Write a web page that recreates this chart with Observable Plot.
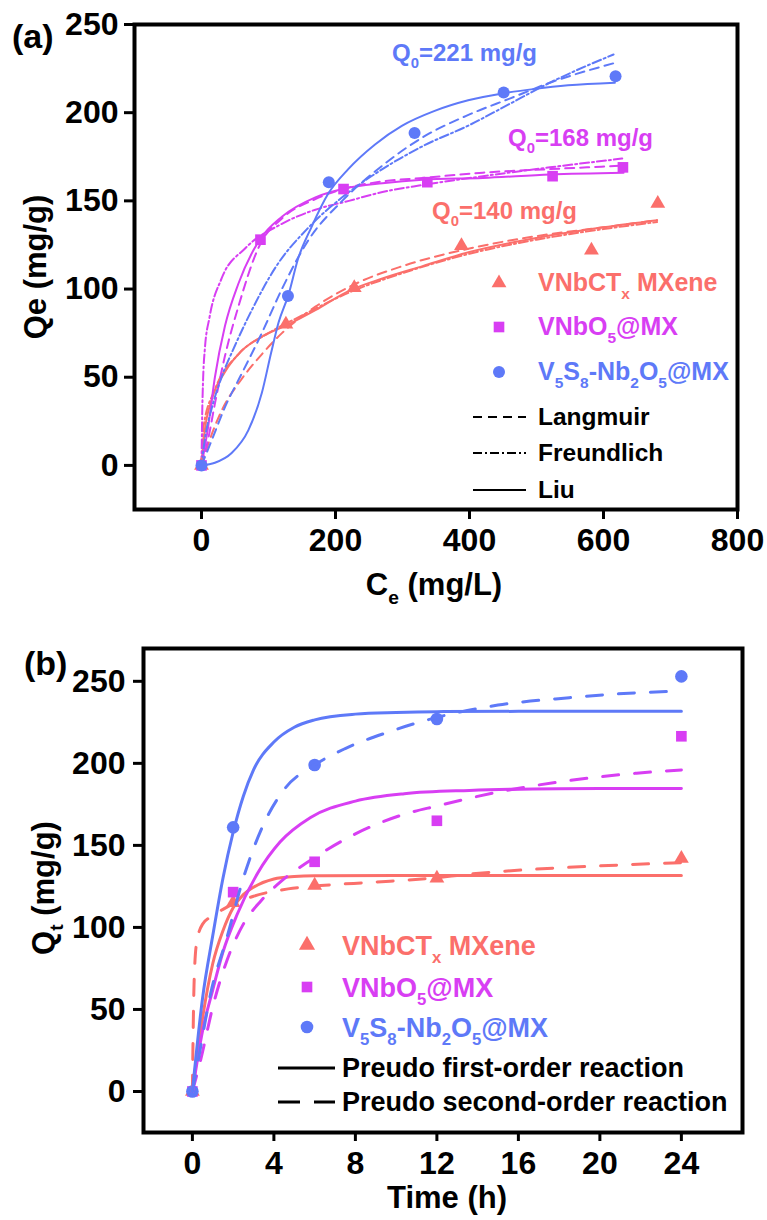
<!DOCTYPE html>
<html><head><meta charset="utf-8">
<script src="https://cdn.jsdelivr.net/npm/d3@7"></script>
<script src="https://cdn.jsdelivr.net/npm/@observablehq/plot@0.6"></script>
<style>
html,body{margin:0;padding:0;background:#fff;overflow:hidden;}
#wrap{position:relative;width:767px;height:1220px;overflow:hidden;background:#fff;}
#wrap svg{position:absolute;left:0;max-width:none;}
</style></head><body><div id="wrap"></div>
<script>
// ---------------- Panel (a): isotherms ----------------
const ceVNbCTx = [0, 126, 228, 388, 582, 681];
const qeVNbCTx = [0, 80, 100.7, 124.5, 122, 148.5];
const ceVNbO5  = [0, 88, 212, 337, 524, 629];
const qeVNbO5  = [0, 128, 156.7, 160.6, 164, 169];
const ceV5S8   = [0, 129, 190, 318, 451, 618];
const qeV5S8   = [0, 96, 160.5, 188.5, 211.5, 220.6];

// fitted curves, [Ce, Qe]
const liuVNbCTx  = [[0,0],[5,20],[15,37],[35,53],[60,65],[90,73],[130,80],[170,88],[220,99],[270,106],[330,113],[400,121],[500,129],[600,135],[680,139]];
const langVNbCTx = [[0,0],[10,12],[30,31],[60,49],[90,63],[120,75],[170,90],[230,103],[300,113],[400,123],[500,130],[600,135],[680,139]];
const freuVNbCTx = [[0,0],[3,22],[20,43],[55,63],[100,75],[150,85],[220,98],[300,109],[400,120],[500,128],[600,134],[680,138]];
const liuVNbO5   = [[0,0],[10,22],[20,50],[35,79],[55,103],[87,128],[120,141],[170,152],[214,157],[270,160],[330,162],[420,163],[520,165],[630,166]];
const langVNbO5  = [[0,0],[10,15],[20,35],[35,62],[55,90],[87,125],[120,140],[170,151],[214,157],[270,161],[330,163],[420,166],[520,168],[630,170]];
const freuVNbO5  = [[0,0],[1,28],[2.5,50],[5,66],[12,84],[30,106],[65,123],[120,137],[170,145],[220,150],[270,155],[330,159],[420,164],[520,169],[628,174]];
const liuV5S8    = [[0,0],[20,1.5],[45,7],[70,20],[90,41],[104,64],[115,81],[130,97],[144,117],[164,135],[189,154],[219,168],[259,182],[299,192.5],[348,201],[398,207],[451,211],[498,213.5],[547,215.5],[617,217]];
const langV5S8   = [[0,0],[15,14],[35,33],[60,52],[90,75],[120,100],[160,128],[210,150],[270,170],[330,186],[400,199],[460,208],[520,217],[615,228]];
const freuV5S8   = [[0,0],[5,15],[15,32],[30,50],[50,68],[75,88],[110,112],[160,135],[210,152],[270,168],[330,181],[400,193],[460,205],[520,217],[615,233]];

const xTicksA = [0, 200, 400, 600, 800];
const yTicksA = [0, 50, 100, 150, 200, 250];

// ---------------- Panel (b): kinetics ----------------
const tPts      = [0, 2, 6, 12, 24];
const qtVNbCTx  = [0, 115, 125.6, 130, 142];
const qtVNbO5   = [0, 121.5, 140, 165, 216.5];
const qtV5S8    = [0, 161, 199, 227, 253];

const pfoVNbCTx = [[0,0],[0.5,45],[1,78],[1.5,98],[2,112],[2.5,120],[3,124.5],[4,129.5],[5,131],[6,131.5],[10,131.7],[24,131.7]];
const psoVNbCTx = [[0,0],[0.03,30],[0.08,65],[0.2,90],[0.5,102],[1,107],[1.5,111],[3,119],[4.7,123.5],[6.3,125.5],[8.8,127.5],[11.75,130],[13.6,132.5],[16.8,135.5],[20,137.5],[24,139.5]];
const pfoVNbO5  = [[0,0],[0.5,37],[1,62],[1.5,85],[2.2,108],[3.2,133],[4.3,152],[5.8,167],[8,177],[10.4,181.5],[13.6,183.5],[18,184.5],[24,184.7]];
const psoVNbO5  = [[0,0],[0.4,19],[1.05,54],[1.7,80],[2.5,102],[3.35,116],[4.35,128],[5.8,141],[8,157],[10.4,169],[12,174],[15.2,183],[18.5,189.5],[21.8,194],[24,196]];
const pfoV5S8   = [[0,0],[0.5,57],[1,95],[1.5,130],[2,158],[2.5,180],[3,196],[4,213],[5,222],[6,226.5],[8,230],[10,231],[12,231.5],[16,231.7],[24,231.7]];
const psoV5S8   = [[0,0],[0.3,20],[0.9,60],[1.7,94],[2.5,130],[3.5,163],[4.5,184],[6,199],[7.5,209],[9.6,219],[12,228],[15,235.5],[18.5,240],[21.8,243],[24,244]];

const xTicksB = [0, 4, 8, 12, 16, 20, 24];
const yTicksB = [0, 50, 100, 150, 200, 250];

// ---------------- styling ----------------
const FONT = "'Liberation Sans', Arial, sans-serif";
const C_SAL = "#fb6f6b", C_MAG = "#d83ef3", C_BLU = "#5e79f8";
const DASH_A = "9,6", DOTDASH_A = "9,3,2,3", DASH_B = "16,16";

const pts = (xs, ys) => xs.map((x, i) => ({x, y: ys[i]}));
const crv = arr => arr.map(([x, y]) => ({x, y}));

function rich(sel, x, y, parts, size, fill, anchor = "start", rotate = false) {
  const t = sel.append("text")
    .attr("font-family", FONT).attr("font-weight", "bold")
    .attr("font-size", size).attr("fill", fill).attr("text-anchor", anchor);
  if (rotate) t.attr("transform", `translate(${x},${y}) rotate(-90)`).attr("x", 0).attr("y", 0);
  else t.attr("x", x).attr("y", y);
  let shift = 0;
  for (const p of parts) {
    const sub = typeof p !== "string";
    const target = sub ? size * 0.3 : 0;
    const s = t.append("tspan").text(sub ? p.s : p).attr("dy", target - shift);
    if (sub) s.attr("font-size", size * 0.62);
    shift = target;
  }
  return t;
}
function sym(sel, type, r, cx, cy, fill) {
  sel.append("path").attr("d", d3.symbol(type, Math.PI * r * r)())
    .attr("transform", `translate(${cx},${cy})`).attr("fill", fill);
}

const lineA = (d, c, dash) => Plot.line(crv(d), {x: "x", y: "y", stroke: c, strokeWidth: 2, strokeDasharray: dash, curve: "monotone-x"});
const lineB = (d, c, dash) => Plot.line(crv(d), {x: "x", y: "y", stroke: c, strokeWidth: 3, strokeDasharray: dash, strokeLinecap: "round", curve: "monotone-x"});

const plotA = Plot.plot({
  width: 767, height: 615,
  marginLeft: 134, marginRight: 30, marginTop: 24, marginBottom: 106,
  x: {domain: [-100, 800]}, y: {domain: [-25, 250]},
  style: {fontFamily: FONT, fontWeight: "bold", fontSize: "32px", color: "#000", background: "transparent", overflow: "visible"},
  marks: [
    lineA(langVNbCTx, C_SAL, DASH_A), lineA(freuVNbCTx, C_SAL, DOTDASH_A), lineA(liuVNbCTx, C_SAL, null),
    lineA(langVNbO5, C_MAG, DASH_A), lineA(freuVNbO5, C_MAG, DOTDASH_A), lineA(liuVNbO5, C_MAG, null),
    lineA(langV5S8, C_BLU, DASH_A), lineA(freuV5S8, C_BLU, DOTDASH_A), lineA(liuV5S8, C_BLU, null),
    Plot.dot(pts(ceVNbCTx, qeVNbCTx), {x: "x", y: "y", symbol: "triangle", r: 5.5, fill: C_SAL}),
    Plot.dot(pts(ceVNbO5, qeVNbO5), {x: "x", y: "y", symbol: "square", r: 6, fill: C_MAG}),
    Plot.dot(pts(ceV5S8, qeV5S8), {x: "x", y: "y", symbol: "circle", r: 6, fill: C_BLU}),
    Plot.axisX({ticks: xTicksA, tickSize: 10, tickPadding: 9, strokeWidth: 3, label: null}),
    Plot.axisY({ticks: yTicksA, tickSize: 10, tickPadding: 6, strokeWidth: 3, label: null}),
    Plot.frame({strokeWidth: 4})
  ]
});

const plotB = Plot.plot({
  width: 767, height: 605,
  marginLeft: 143, marginRight: 25, marginTop: 33, marginBottom: 88,
  x: {domain: [-2.4, 27]}, y: {domain: [-25, 270]},
  style: {fontFamily: FONT, fontWeight: "bold", fontSize: "32px", color: "#000", background: "transparent", overflow: "visible"},
  marks: [
    Plot.dot(pts(tPts, qtVNbCTx), {x: "x", y: "y", symbol: "triangle", r: 5.5, fill: C_SAL}),
    Plot.dot(pts(tPts, qtVNbO5), {x: "x", y: "y", symbol: "square", r: 6, fill: C_MAG}),
    Plot.dot(pts(tPts, qtV5S8), {x: "x", y: "y", symbol: "circle", r: 6.3, fill: C_BLU}),
    lineB(psoVNbCTx, C_SAL, DASH_B), lineB(pfoVNbCTx, C_SAL, null),
    lineB(psoVNbO5, C_MAG, DASH_B), lineB(pfoVNbO5, C_MAG, null),
    lineB(psoV5S8, C_BLU, DASH_B), lineB(pfoV5S8, C_BLU, null),
    Plot.axisX({ticks: xTicksB, tickSize: 9, tickPadding: 10, strokeWidth: 3, label: null}),
    Plot.axisY({ticks: yTicksB, tickSize: 10, tickPadding: 8, strokeWidth: 3, label: null}),
    Plot.frame({strokeWidth: 4})
  ]
});

const wrap = document.getElementById("wrap");
plotA.style.top = "0px";
plotB.style.top = "615px";
wrap.appendChild(plotA);
wrap.appendChild(plotB);

// ---- panel (a) texts & legend ----
const a = d3.select(plotA).append("g");
rich(a, 12, 48, ["(a)"], 34, "#000");
rich(a, 46, 267, ["Qe (mg/g)"], 31, "#000", "middle", true);
rich(a, 434, 595, ["C", {s: "e"}, " (mg/L)"], 31, "#000", "middle");
rich(a, 392, 61, ["Q", {s: "0"}, "=221 mg/g"], 24, C_BLU);
rich(a, 508, 146, ["Q", {s: "0"}, "=168 mg/g"], 24, C_MAG);
rich(a, 432, 219, ["Q", {s: "0"}, "=140 mg/g"], 24, C_SAL);
sym(a, d3.symbolTriangle, 5.5, 499, 283, C_SAL);
sym(a, d3.symbolSquare, 6, 499, 327, C_MAG);
sym(a, d3.symbolCircle, 6, 499, 372, C_BLU);
rich(a, 538, 291, ["VNbCT", {s: "x"}, " MXene"], 25, C_SAL);
rich(a, 538, 335, ["VNbO", {s: "5"}, "@MX"], 25, C_MAG);
rich(a, 538, 380, ["V", {s: "5"}, "S", {s: "8"}, "-Nb", {s: "2"}, "O", {s: "5"}, "@MX"], 25, C_BLU);
const legA = [["Langmuir", 417, DASH_A], ["Freundlich", 453, DOTDASH_A], ["Liu", 490, null]];
for (const [lab, y, dash] of legA) {
  a.append("line").attr("x1", 473).attr("x2", 526).attr("y1", y).attr("y2", y)
    .attr("stroke", "#000").attr("stroke-width", 2).attr("stroke-dasharray", dash);
  rich(a, 538, y + 8, [lab], 24.5, "#000");
}

// ---- panel (b) texts & legend ----
const b = d3.select(plotB).append("g");
rich(b, 24, 60, ["(b)"], 34, "#000");
rich(b, 54, 273, ["Q", {s: "t"}, " (mg/g)"], 31, "#000", "middle", true);
rich(b, 447, 593, ["Time (h)"], 31, "#000", "middle");
sym(b, d3.symbolTriangle, 6, 307, 330, C_SAL);
sym(b, d3.symbolSquare, 6, 307, 372, C_MAG);
sym(b, d3.symbolCircle, 6.3, 307, 412, C_BLU);
rich(b, 342, 340, ["VNbCT", {s: "x"}, " MXene"], 27, C_SAL);
rich(b, 342, 382, ["VNbO", {s: "5"}, "@MX"], 27, C_MAG);
rich(b, 342, 422, ["V", {s: "5"}, "S", {s: "8"}, "-Nb", {s: "2"}, "O", {s: "5"}, "@MX"], 27, C_BLU);
const legB = [["Preudo first-order reaction", 453, null], ["Preudo second-order reaction", 487, "22,14"]];
for (const [lab, y, dash] of legB) {
  b.append("line").attr("x1", 278).attr("x2", 335).attr("y1", y).attr("y2", y)
    .attr("stroke", "#000").attr("stroke-width", 3).attr("stroke-dasharray", dash);
  rich(b, 342, y + 9, [lab], 27, "#000");
}
</script></body></html>
